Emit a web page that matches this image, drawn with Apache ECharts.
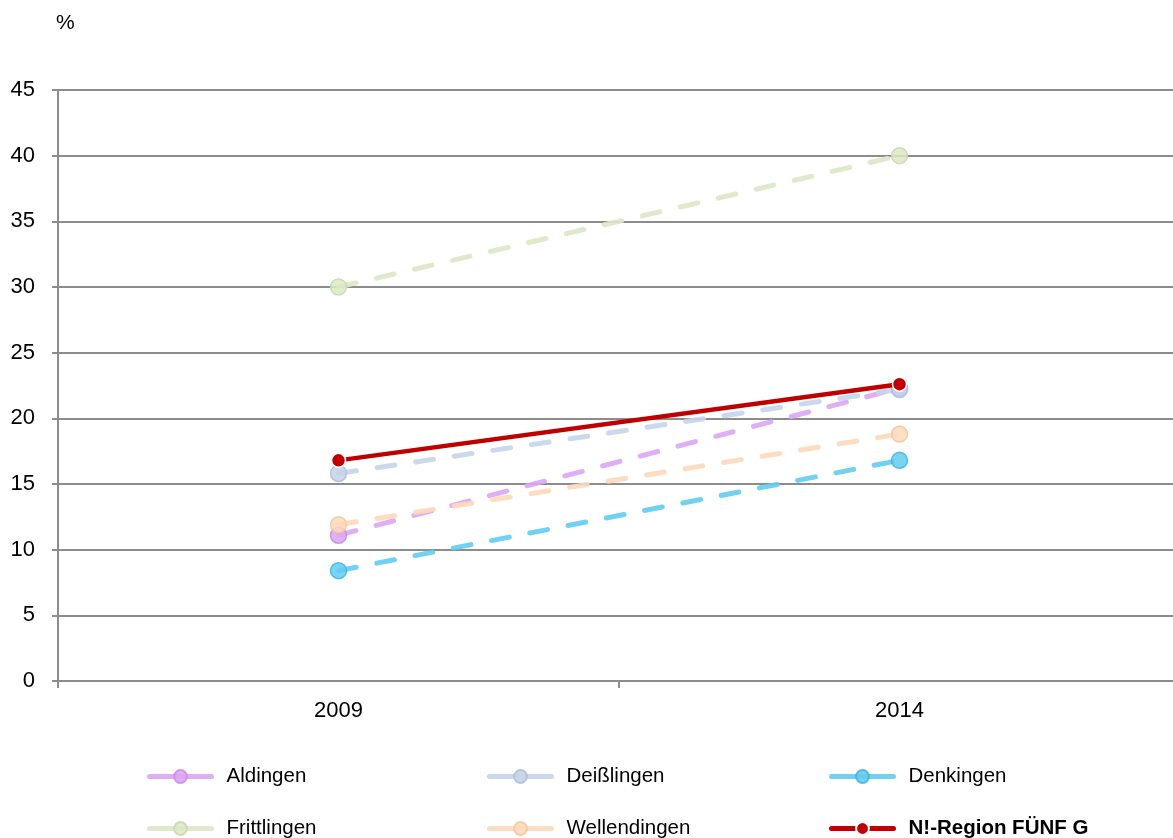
<!DOCTYPE html>
<html>
<head>
<meta charset="utf-8">
<script src="https://cdn.jsdelivr.net/npm/echarts@6/dist/echarts.min.js"></script>
<style>
  html, body { margin: 0; padding: 0; background: #fff; overflow: hidden; }
  /* the plot runs slightly past the right edge of the window */
  #chart { width: 1180px; height: 838px; }
</style>
</head>
<body>
<div id="chart"></div>
<script>
// Years on the category axis
const years = ['2009', '2014'];

// Share in percent per municipality
const aldingen = [11.1, 22.3];
const deisslingen = [15.8, 22.2];
const denkingen = [8.4, 16.8];
const frittlingen = [30.0, 40.0];
const wellendingen = [11.9, 18.8];
const region = [16.8, 22.6];

const FONT = '"Liberation Sans", Arial, sans-serif';

function dashed(name, data, color, border) {
  return {
    name: name,
    type: 'line',
    data: data,
    symbol: 'circle',
    symbolSize: 16,
    lineStyle: { color: color, width: 5, type: [18, 21], cap: 'round', opacity: 0.9 },
    itemStyle: { color: color, opacity: 0.85, borderColor: border, borderWidth: 1.5 },
    emphasis: { disabled: true },
    z: 2
  };
}

const series = [
  dashed('Aldingen', aldingen, '#dca6f5', '#c98ae8'),
  dashed('Deißlingen', deisslingen, '#c6d4e9', '#aabfdc'),
  dashed('Denkingen', denkingen, '#62ccf1', '#3fb4e0'),
  dashed('Frittlingen', frittlingen, '#dce7c6', '#c8d8ae'),
  dashed('Wellendingen', wellendingen, '#fdd9ba', '#f6c49c'),
  {
    name: 'N!-Region FÜNF G',
    type: 'line',
    data: region,
    symbol: 'circle',
    symbolSize: 14,
    lineStyle: { color: '#c00000', width: 4.5 },
    itemStyle: { color: '#c00000', borderColor: '#ffffff', borderWidth: 1.5 },
    emphasis: { disabled: true },
    z: 5
  }
];

// one legend block per entry, laid out in a 3 x 2 grid
const legendPos = [
  [147, 766], [487, 766], [829, 766],
  [147, 818], [487, 818], [829, 818]
];
const legends = series.map((s, i) => ({
  data: [s.name],
  left: legendPos[i][0],
  top: legendPos[i][1],
  padding: 0,
  itemWidth: 62,
  itemHeight: 16,
  itemGap: 0,
  selectedMode: false,
  lineStyle: { width: 5, type: 'solid', cap: 'round' },
  textStyle: {
    fontFamily: FONT,
    fontSize: 20.5,
    color: '#000',
    fontWeight: i === 5 ? 'bold' : 'normal',
    padding: [0, 0, 0, 10]
  }
}));

const chart = echarts.init(document.getElementById('chart'), null, { renderer: 'canvas' });
chart.setOption({
  animation: false,
  backgroundColor: '#ffffff',
  textStyle: { fontFamily: FONT },
  grid: { left: 58, right: 0, top: 90, bottom: 157, containLabel: false },
  graphic: [{
    type: 'text', left: 56, top: 13,
    style: { text: '%', fontFamily: FONT, fontSize: 21, fill: '#000' }
  }],
  legend: legends,
  xAxis: {
    type: 'category',
    data: years,
    boundaryGap: true,
    axisLine: { lineStyle: { color: '#8c8c8c', width: 2 } },
    axisTick: { show: true, length: 7, lineStyle: { color: '#8c8c8c', width: 2 } },
    axisLabel: { fontFamily: FONT, fontSize: 22, color: '#000', margin: 19 },
    splitLine: { show: false }
  },
  yAxis: {
    type: 'value',
    min: 0,
    max: 45,
    interval: 5,
    axisLine: { show: true, lineStyle: { color: '#8c8c8c', width: 2 } },
    axisTick: { show: true, length: 6, lineStyle: { color: '#8c8c8c', width: 2 } },
    axisLabel: { fontFamily: FONT, fontSize: 22, color: '#000', margin: 23 },
    splitLine: { show: true, lineStyle: { color: '#8c8c8c', width: 2 } }
  },
  series: series
});
</script>
</body>
</html>
